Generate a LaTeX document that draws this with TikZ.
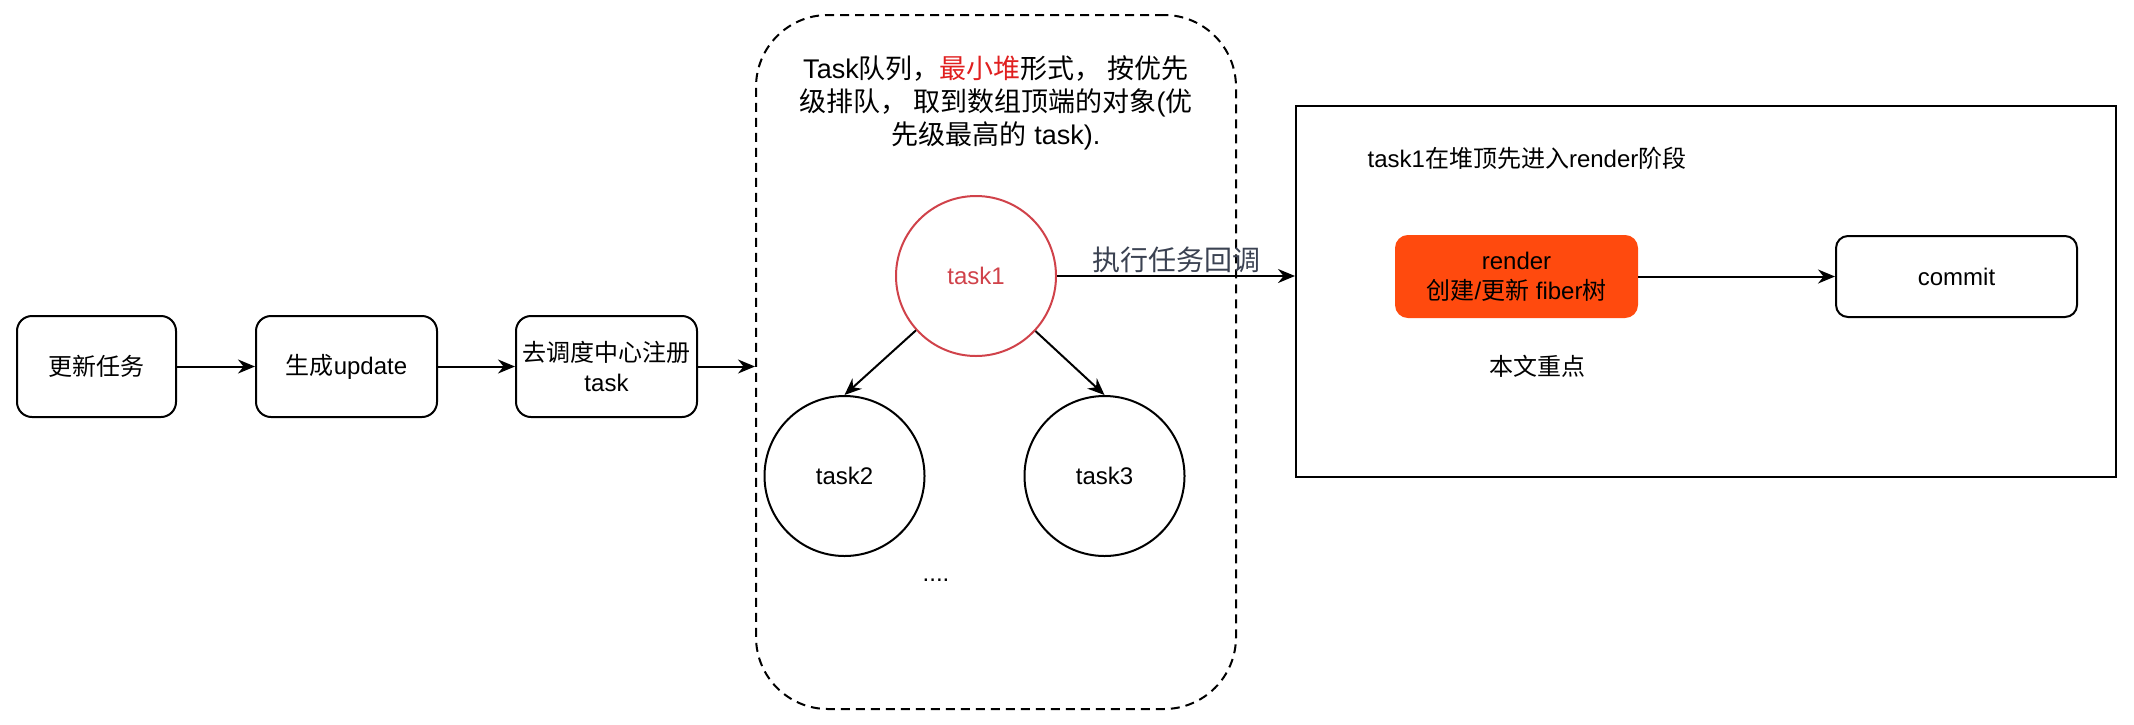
\documentclass[tikz,border=0pt]{standalone}
\usepackage{fontspec}
\setmainfont{Liberation Sans}
\newfontfamily\cjk{Noto Sans CJK SC}
\usetikzlibrary{arrows.meta,positioning}
\definecolor{heapred}{RGB}{208,66,74}
\definecolor{keyred}{RGB}{224,32,32}
\definecolor{labelgray}{RGB}{59,66,82}
\definecolor{renderfill}{RGB}{255,74,14}

\begin{document}
\begin{tikzpicture}[x=0.5pt, y=-0.5pt, line width=1pt, >={Stealth[length=8.5pt,width=7pt]},
  every node/.style={font=\fontsize{12}{15}\selectfont},
  stepbox/.style={draw, rounded corners=7.5pt, minimum height=50.5pt, align=center, inner sep=0pt},
  phasebox/.style={draw, rounded corners=6pt, minimum width=120.5pt, minimum height=40.5pt, align=center, inner sep=0pt},
  heapnode/.style={draw, circle, minimum size=80pt, inner sep=0pt}]
\useasboundingbox (0,0) rectangle (2134,724);
\node[stepbox, minimum width=79.5pt] (upd) at (96.5,366.5) {{\cjk 更新任务}};
\node[stepbox, minimum width=90.5pt] (gen) at (346.5,366.5) {{\cjk 生成}update};
\node[stepbox, minimum width=90.5pt] (reg) at (606.5,366.5) {{\cjk 去调度中心注册}\\task};
\node[draw, dash pattern=on 4.5pt off 3pt, rounded corners=36pt, minimum width=240pt, minimum height=347pt] (queue) at (996,362) {};
\node[font=\fontsize{13.5}{16.5}\selectfont, align=center] (qtitle) at (996,103) {Task{\cjk 队列，}{\cjk\color{keyred}最小堆}{\cjk 形式， 按优先}\\{\cjk 级排队，\ 取到数组顶端的对象}({\cjk 优}\\{\cjk 先级最高的} task).};
\node[heapnode, draw=heapred, text=heapred] (t1) at (976,276) {task1};
\node[heapnode] (t2) at (844.5,476) {task2};
\node[heapnode] (t3) at (1104.5,476) {task3};
\node (more) at (936,580) {....};
\node[draw, minimum width=410pt, minimum height=185.5pt, inner sep=0pt] (stage) at (1706,291.5) {};
\node (stitle) at (1527,158) {task1{\cjk 在堆顶先进入}render{\cjk 阶段}};
\node[phasebox, draw=renderfill, fill=renderfill] (render) at (1516.5,276.5) {render\\{\cjk 创建}/{\cjk 更新} fiber{\cjk 树}};
\node[phasebox] (commit) at (1956.5,276.5) {commit};
\node (focus) at (1537,366) {{\cjk 本文重点}};
\path[->]
(upd) edge (gen)
(gen) edge (reg)
(reg.east) edge (reg.east -| queue.west)
(t1) edge (t2.north)
(t1) edge (t3.north)
(t1.east) edge node[above, text=labelgray, font=\fontsize{14}{16}\selectfont, inner sep=1pt] {\cjk 执行任务回调} (t1.east -| stage.west)
(render) edge (commit);
\end{tikzpicture}
\end{document}
